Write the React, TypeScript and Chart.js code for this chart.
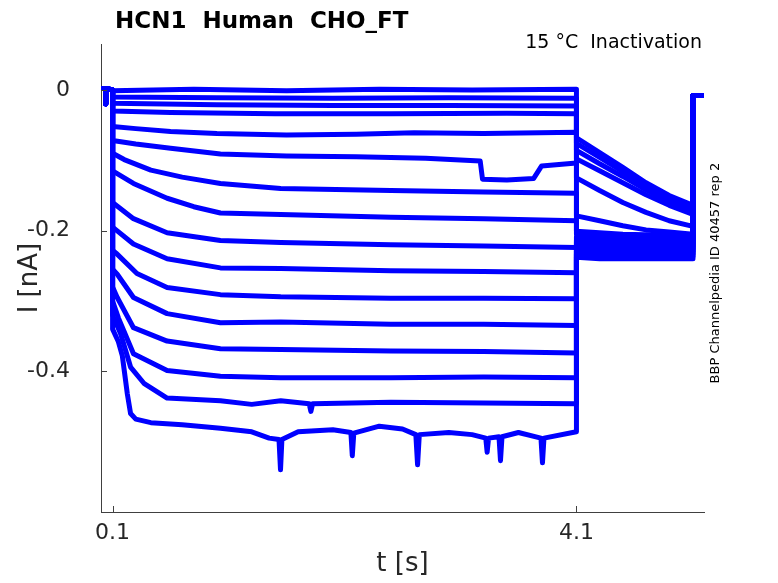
import { useEffect, useRef } from "react";
import { Chart, registerables } from "chart.js";
Chart.register(...registerables);

const FONT = '"DejaVu Sans", sans-serif';
const TRACE_COLOR = "#0000ff";
const AXIS_COLOR = "#404040";
const LABEL_COLOR = "#262626";

const TITLE = "HCN1  Human  CHO_FT";
const CONDITION = "15 °C  Inactivation";
const SOURCE = "BBP Channelpedia ID 40457 rep 2";

const X_TICKS = [0.1, 4.1];
const Y_TICKS = [-0.4, -0.2, 0];

// holding level before the conditioning step, [t s, I nA]
const PRE = [[0, 0.002], [0.038, 0.002], [0.04, -0.02], [0.042, 0.002], [0.1, 0.0]];
// back to holding after the tail
const POST = [[5.105, -0.008], [5.2, -0.008]];

// conditioning steps (0.1 s .. 4.1 s), [t s, I nA]
const step01 = [[0.1, -0.001], [0.8, 0.001], [1.6, -0.001], [2.4, 0.001], [3.2, 0.0], [4.1, 0.001]];
const step02 = [[0.1, -0.01], [1.0, -0.011], [2.0, -0.012], [3.0, -0.011], [4.1, -0.012]];
const step03 = [[0.1, -0.019], [1.0, -0.021], [2.0, -0.022], [3.0, -0.022], [4.1, -0.023]];
const step04 = [[0.1, -0.03], [0.6, -0.032], [1.5, -0.034], [2.5, -0.034], [3.5, -0.033], [4.1, -0.034]];
const step05 = [[0.1, -0.052], [0.3, -0.055], [0.6, -0.059], [1.0, -0.062], [1.6, -0.064], [2.2, -0.063], [2.7, -0.061], [3.3, -0.062], [4.1, -0.06]];
const step06 = [[0.1, -0.072], [0.3, -0.077], [0.6, -0.083], [1.03, -0.091], [1.6, -0.094], [2.2, -0.095], [2.8, -0.097], [3.27, -0.101], [3.29, -0.127], [3.5, -0.128], [3.73, -0.126], [3.8, -0.108], [4.1, -0.104]];
const step07 = [[0.1, -0.09], [0.2, -0.099], [0.43, -0.114], [0.7, -0.124], [1.03, -0.133], [1.55, -0.14], [2.5, -0.143], [3.3, -0.145], [4.1, -0.147]];
const step08 = [[0.1, -0.115], [0.28, -0.133], [0.57, -0.154], [0.8, -0.166], [1.03, -0.175], [1.55, -0.177], [2.5, -0.181], [3.3, -0.183], [4.1, -0.186]];
const step09 = [[0.1, -0.16], [0.28, -0.183], [0.57, -0.203], [1.03, -0.214], [1.55, -0.217], [2.5, -0.22], [3.3, -0.222], [4.1, -0.224]];
const step10 = [[0.1, -0.195], [0.28, -0.219], [0.57, -0.24], [1.03, -0.253], [1.55, -0.254], [2.5, -0.257], [3.3, -0.258], [4.1, -0.26]];
const step11 = [[0.1, -0.228], [0.13, -0.232], [0.31, -0.261], [0.57, -0.281], [1.03, -0.291], [1.55, -0.294], [2.5, -0.296], [3.3, -0.296], [4.1, -0.297]];
const step12 = [[0.1, -0.255], [0.14, -0.262], [0.28, -0.295], [0.57, -0.318], [1.03, -0.331], [1.55, -0.33], [2.5, -0.333], [3.3, -0.333], [4.1, -0.335]];
const step13 = [[0.1, -0.28], [0.14, -0.295], [0.28, -0.338], [0.57, -0.357], [1.03, -0.368], [1.55, -0.369], [2.5, -0.371], [3.3, -0.372], [4.1, -0.374]];
const step14 = [[0.1, -0.3], [0.15, -0.324], [0.28, -0.375], [0.57, -0.399], [1.03, -0.407], [1.55, -0.409], [2.5, -0.409], [3.3, -0.408], [4.1, -0.409]];
const step15 = [[0.1, -0.32], [0.17, -0.347], [0.255, -0.394], [0.37, -0.417], [0.57, -0.438], [1.03, -0.442], [1.3, -0.447], [1.55, -0.442], [1.795, -0.446], [1.81, -0.457], [1.825, -0.446], [2.5, -0.444], [3.3, -0.445], [4.1, -0.446]];
const step16 = [
  [0.1, -0.34], [0.15, -0.358], [0.184, -0.378], [0.227, -0.432], [0.255, -0.46], [0.3, -0.468], [0.43, -0.473],
  [0.7, -0.476], [1.03, -0.481], [1.3, -0.486], [1.45, -0.495], [1.535, -0.497], [1.548, -0.54], [1.56, -0.497],
  [1.7, -0.486], [2.0, -0.483], [2.155, -0.487], [2.167, -0.52], [2.18, -0.488], [2.4, -0.478], [2.6, -0.482],
  [2.715, -0.49], [2.73, -0.533], [2.745, -0.49], [3.0, -0.487], [3.2, -0.49], [3.318, -0.495], [3.33, -0.515],
  [3.342, -0.495], [3.432, -0.493], [3.445, -0.527], [3.458, -0.493], [3.6, -0.487], [3.794, -0.495],
  [3.807, -0.53], [3.82, -0.495], [4.1, -0.486],
];

// tail at the test potential
const TAIL_T = [4.1, 4.3, 4.5, 4.7, 4.9, 5.105];
const tail01 = [-0.068, -0.089, -0.11, -0.132, -0.15, -0.164];
const tail02 = [-0.076, -0.096, -0.116, -0.136, -0.154, -0.169];
const tail03 = [-0.086, -0.105, -0.123, -0.142, -0.159, -0.173];
const tail04 = [-0.098, -0.115, -0.132, -0.149, -0.164, -0.177];
const tail05 = [-0.125, -0.143, -0.16, -0.174, -0.186, -0.194];
const tail06 = [-0.179, -0.186, -0.193, -0.199, -0.202, -0.205];
const tail07 = [-0.201, -0.203, -0.205, -0.206, -0.207, -0.208];
const tail08 = [-0.205, -0.207, -0.208, -0.209, -0.21, -0.211];
const tail09 = [-0.209, -0.211, -0.212, -0.213, -0.213, -0.214];
const tail10 = [-0.213, -0.215, -0.216, -0.217, -0.217, -0.218];
const tail11 = [-0.217, -0.219, -0.22, -0.221, -0.221, -0.222];
const tail12 = [-0.221, -0.223, -0.224, -0.225, -0.225, -0.226];
const tail13 = [-0.225, -0.227, -0.228, -0.229, -0.229, -0.229];
const tail14 = [-0.229, -0.231, -0.232, -0.232, -0.233, -0.233];
const tail15 = [-0.233, -0.235, -0.236, -0.236, -0.236, -0.237];
const tail16 = [-0.238, -0.24, -0.24, -0.24, -0.24, -0.24];

const STEPS = [step01, step02, step03, step04, step05, step06, step07, step08, step09, step10, step11, step12, step13, step14, step15, step16];
const TAILS = [tail01, tail02, tail03, tail04, tail05, tail06, tail07, tail08, tail09, tail10, tail11, tail12, tail13, tail14, tail15, tail16];

const toPoints = (pairs: number[][]) => pairs.map(([x, y]) => ({ x, y }));

// inward MATLAB-style ticks plus the free text around the axes
const decorations = {
  id: "decorations",
  afterDatasetsDraw(chart: any) {
    const { ctx, chartArea, scales } = chart;
    ctx.save();
    ctx.strokeStyle = AXIS_COLOR;
    ctx.lineWidth = 1;
    ctx.beginPath();
    X_TICKS.forEach((v) => {
      const px = Math.round(scales.x.getPixelForValue(v)) + 0.5;
      ctx.moveTo(px, chartArea.bottom);
      ctx.lineTo(px, chartArea.bottom - 6);
    });
    Y_TICKS.forEach((v) => {
      const py = Math.round(scales.y.getPixelForValue(v)) + 0.5;
      ctx.moveTo(chartArea.left, py);
      ctx.lineTo(chartArea.left + 6, py);
    });
    ctx.stroke();
    ctx.restore();
  },
  afterDraw(chart: any) {
    const { ctx, chartArea } = chart;
    ctx.save();
    ctx.fillStyle = "#000";
    ctx.textBaseline = "alphabetic";

    ctx.font = `bold 23px ${FONT}`;
    ctx.textAlign = "left";
    ctx.fillText(TITLE, chartArea.left + 14, chartArea.top - 16);

    ctx.font = `19px ${FONT}`;
    ctx.textAlign = "right";
    ctx.fillText(CONDITION, chartArea.right - 2, chartArea.top + 4);

    ctx.font = `13px ${FONT}`;
    ctx.textAlign = "center";
    ctx.textBaseline = "middle";
    ctx.translate(chartArea.right + 12, (chartArea.top + chartArea.bottom) / 2 - 5);
    ctx.rotate(-Math.PI / 2);
    ctx.fillText(SOURCE, 0, 0);
    ctx.restore();
  },
};

function CurrentTraces() {
  const canvasRef = useRef<HTMLCanvasElement>(null);

  useEffect(() => {
    if (!canvasRef.current) return;
    const ctx = canvasRef.current.getContext("2d");
    if (!ctx) return;

    const datasets = STEPS.map((step, i) => ({
      data: [
        ...toPoints(PRE),
        ...toPoints(step),
        ...TAIL_T.map((x, j) => ({ x, y: TAILS[i][j] })),
        ...toPoints(POST),
      ],
      borderColor: TRACE_COLOR,
      backgroundColor: TRACE_COLOR,
      borderWidth: 5,
      borderJoinStyle: "round" as const,
      borderCapStyle: "round" as const,
      pointRadius: 0,
      tension: 0,
      fill: false,
    }));

    const chart = new Chart(ctx, {
      type: "line",
      data: { datasets },
      options: {
        responsive: true,
        maintainAspectRatio: false,
        animation: false,
        layout: { padding: { left: 0, right: 74, top: 43, bottom: 0 } },
        plugins: { legend: { display: false }, tooltip: { enabled: false } },
        scales: {
          x: {
            type: "linear",
            min: 0,
            max: 5.2,
            afterBuildTicks: (s: any) => { s.ticks = X_TICKS.map((value) => ({ value })); },
            afterFit: (s: any) => { s.height = 71; },
            ticks: { font: { family: FONT, size: 22 }, color: LABEL_COLOR, padding: 8, maxRotation: 0, autoSkip: false, callback: (v) => Number(v).toFixed(1) },
            grid: { display: false, drawTicks: false },
            border: { display: true, color: AXIS_COLOR, width: 1 },
            title: { display: true, text: "t [s]", font: { family: FONT, size: 26 }, color: LABEL_COLOR, padding: { top: 0, bottom: 3 } },
          },
          y: {
            type: "linear",
            min: -0.6,
            max: 0.065,
            afterBuildTicks: (s: any) => { s.ticks = Y_TICKS.map((value) => ({ value })); },
            afterFit: (s: any) => { s.width = 101; },
            ticks: { font: { family: FONT, size: 22 }, color: LABEL_COLOR, padding: 31, autoSkip: false, callback: (v) => (Number(v) === 0 ? "0" : Number(v).toFixed(1)) },
            grid: { display: false, drawTicks: false },
            border: { display: true, color: AXIS_COLOR, width: 1 },
            title: { display: true, text: "I [nA]", font: { family: FONT, size: 26 }, color: LABEL_COLOR, padding: { top: 15, bottom: 0 } },
          },
        },
      },
      plugins: [decorations],
    });

    return () => chart.destroy();
  }, []);

  return <canvas ref={canvasRef} />;
}

export default function App() {
  return (
    <div style={{ position: "fixed", left: 0, top: 0, width: 778, height: 583, background: "#fff" }}>
      <CurrentTraces />
    </div>
  );
}
